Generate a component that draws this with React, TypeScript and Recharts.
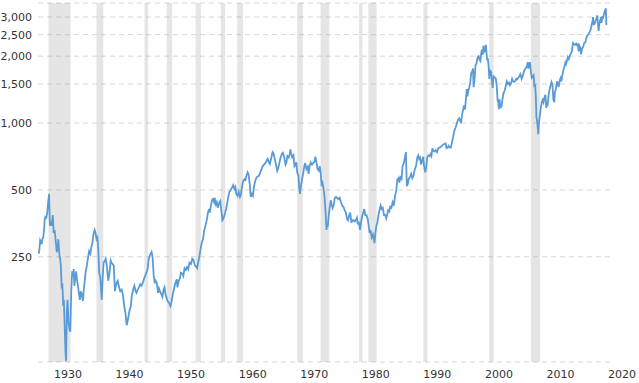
import React from 'react';
import { LineChart, Line, XAxis, YAxis, CartesianGrid, ReferenceArea } from 'recharts';

const years: number[] = [
  1928.0, 1928.1, 1928.25, 1928.4, 1928.5, 1928.6, 1928.75, 1928.9, 1929.0, 1929.1, 1929.25, 1929.4, 1929.55, 1929.7, 1929.83, 1929.95,
  1930.1, 1930.3, 1930.45, 1930.6, 1930.75, 1930.95, 1931.1, 1931.2, 1931.4, 1931.5, 1931.6, 1931.75, 1931.85, 1932.0, 1932.1, 1932.2,
  1932.35, 1932.45, 1932.6, 1932.7, 1932.85, 1933.0, 1933.15, 1933.3, 1933.45, 1933.6, 1933.7, 1933.8, 1933.95, 1934.1, 1934.25, 1934.4,
  1934.55, 1934.7, 1934.85, 1935.0, 1935.2, 1935.35, 1935.5, 1935.65, 1935.8, 1936.0, 1936.2, 1936.4, 1936.55, 1936.75, 1936.9, 1937.1,
  1937.25, 1937.4, 1937.55, 1937.7, 1937.85, 1938.0, 1938.25, 1938.4, 1938.55, 1938.75, 1938.9, 1939.1, 1939.3, 1939.5, 1939.7, 1939.85,
  1940.0, 1940.2, 1940.4, 1940.55, 1940.7, 1940.85, 1941.0, 1941.25, 1941.5, 1941.7, 1941.9, 1942.1, 1942.3, 1942.45, 1942.6, 1942.8,
  1942.95, 1943.15, 1943.4, 1943.55, 1943.75, 1943.9, 1944.1, 1944.3, 1944.5, 1944.7, 1944.9, 1945.1, 1945.3, 1945.5, 1945.7, 1945.9,
  1946.1, 1946.35, 1946.5, 1946.7, 1946.85, 1947.0, 1947.2, 1947.4, 1947.55, 1947.7, 1947.9, 1948.1, 1948.3, 1948.45, 1948.6, 1948.8,
  1948.95, 1949.2, 1949.4, 1949.55, 1949.8, 1950.0, 1950.2, 1950.45, 1950.55, 1950.75, 1950.95, 1951.1, 1951.35, 1951.5, 1951.7, 1951.9,
  1952.1, 1952.3, 1952.5, 1952.75, 1952.95, 1953.15, 1953.4, 1953.6, 1953.75, 1953.9, 1954.1, 1954.3, 1954.5, 1954.7, 1954.9, 1955.1,
  1955.3, 1955.5, 1955.7, 1955.8, 1955.95, 1956.15, 1956.3, 1956.5, 1956.6, 1956.8, 1956.95, 1957.1, 1957.3, 1957.5, 1957.7, 1957.85,
  1958.0, 1958.2, 1958.45, 1958.6, 1958.8, 1959.0, 1959.2, 1959.45, 1959.6, 1959.8, 1959.95, 1960.1, 1960.3, 1960.5, 1960.7, 1960.85,
  1961.0, 1961.2, 1961.45, 1961.6, 1961.8, 1961.95, 1962.1, 1962.3, 1962.45, 1962.6, 1962.8, 1962.95, 1963.15, 1963.4, 1963.6, 1963.8,
  1963.95, 1964.2, 1964.4, 1964.6, 1964.8, 1965.0, 1965.2, 1965.4, 1965.55, 1965.8, 1966.0, 1966.15, 1966.4, 1966.6, 1966.75, 1966.9,
  1967.1, 1967.3, 1967.5, 1967.7, 1967.9, 1968.1, 1968.25, 1968.4, 1968.6, 1968.75, 1968.9, 1969.0, 1969.2, 1969.4, 1969.55, 1969.7,
  1969.85, 1970.0, 1970.2, 1970.35, 1970.45, 1970.6, 1970.8, 1970.95, 1971.15, 1971.3, 1971.5, 1971.7, 1971.85, 1972.0, 1972.2, 1972.4,
  1972.6, 1972.8, 1972.95, 1973.1, 1973.3, 1973.5, 1973.65, 1973.8, 1973.95, 1974.1, 1974.3, 1974.45, 1974.6, 1974.75, 1974.85, 1974.95,
  1975.1, 1975.3, 1975.45, 1975.6, 1975.75, 1975.95, 1976.1, 1976.3, 1976.5, 1976.7, 1976.9, 1977.1, 1977.3, 1977.5, 1977.7, 1977.9,
  1978.1, 1978.25, 1978.45, 1978.6, 1978.8, 1978.95, 1979.15, 1979.35, 1979.5, 1979.7, 1979.85, 1980.0, 1980.2, 1980.35, 1980.5, 1980.7,
  1980.9, 1981.05, 1981.25, 1981.45, 1981.6, 1981.75, 1981.9, 1982.1, 1982.3, 1982.45, 1982.55, 1982.7, 1982.85, 1983.0, 1983.2, 1983.4,
  1983.55, 1983.7, 1983.9, 1984.1, 1984.3, 1984.45, 1984.6, 1984.75, 1984.95, 1985.1, 1985.3, 1985.5, 1985.7, 1985.9, 1986.1, 1986.25,
  1986.45, 1986.6, 1986.75, 1986.95, 1987.1, 1987.3, 1987.5, 1987.65, 1987.8, 1987.95, 1988.1, 1988.3, 1988.5, 1988.7, 1988.9, 1989.1,
  1989.3, 1989.5, 1989.65, 1989.8, 1989.95, 1990.1, 1990.3, 1990.45, 1990.6, 1990.8, 1990.95, 1991.1, 1991.3, 1991.5, 1991.65, 1991.8,
  1991.95, 1992.1, 1992.3, 1992.5, 1992.7, 1992.9, 1993.1, 1993.3, 1993.5, 1993.7, 1993.9, 1994.1, 1994.25, 1994.45, 1994.6, 1994.8,
  1994.95, 1995.1, 1995.3, 1995.5, 1995.7, 1995.9, 1996.1, 1996.3, 1996.5, 1996.6, 1996.8, 1996.95, 1997.1, 1997.25, 1997.4, 1997.55,
  1997.65, 1997.8, 1997.95, 1998.1, 1998.25, 1998.4, 1998.55, 1998.65, 1998.8, 1998.95, 1999.1, 1999.3, 1999.45, 1999.6, 1999.75, 1999.9,
  2000.0, 2000.15, 2000.25, 2000.4, 2000.55, 2000.65, 2000.75, 2000.85, 2000.95, 2001.1, 2001.2, 2001.35, 2001.5, 2001.65, 2001.75, 2001.85,
  2001.95, 2002.1, 2002.25, 2002.4, 2002.55, 2002.65, 2002.75, 2002.85, 2002.95, 2003.1, 2003.2, 2003.35, 2003.5, 2003.7, 2003.9, 2004.05,
  2004.2, 2004.4, 2004.55, 2004.7, 2004.9, 2005.05, 2005.2, 2005.35, 2005.55, 2005.7, 2005.9, 2006.05, 2006.25, 2006.45, 2006.6, 2006.8,
  2006.95, 2007.1, 2007.3, 2007.45, 2007.55, 2007.7, 2007.8, 2007.95, 2008.1, 2008.25, 2008.4, 2008.5, 2008.65, 2008.75, 2008.85, 2008.95,
  2009.05, 2009.15, 2009.25, 2009.4, 2009.55, 2009.7, 2009.85, 2010.0, 2010.15, 2010.3, 2010.45, 2010.55, 2010.65, 2010.8, 2010.95, 2011.15,
  2011.3, 2011.45, 2011.6, 2011.75, 2011.85, 2012.0, 2012.2, 2012.35, 2012.45, 2012.6, 2012.75, 2012.9, 2013.05, 2013.25, 2013.4, 2013.55,
  2013.65, 2013.8, 2013.95, 2014.1, 2014.25, 2014.45, 2014.6, 2014.8, 2014.95, 2015.1, 2015.3, 2015.45, 2015.6, 2015.7, 2015.85, 2016.0,
  2016.1, 2016.25, 2016.45, 2016.6, 2016.8, 2016.95, 2017.1, 2017.3, 2017.5, 2017.65, 2017.8, 2017.95, 2018.05, 2018.15, 2018.3, 2018.45,
  2018.6, 2018.72, 2018.85, 2018.95, 2019.05, 2019.2, 2019.35, 2019.42, 2019.55, 2019.65, 2019.75, 2019.9, 2020.05, 2020.13, 2020.2,
];

const realPrice: number[] = [
  258, 265, 296, 290, 285, 300, 305, 335, 370, 378, 375, 395, 440, 480, 345, 360,
  345, 385, 320, 330, 300, 262, 275, 300, 250, 245, 230, 180, 190, 150, 160, 130,
  95, 85, 145, 160, 128, 118, 115, 175, 215, 205, 220, 185, 200, 215, 195, 185,
  170, 160, 175, 170, 158, 180, 195, 215, 225, 245, 265, 258, 275, 290, 315, 330,
  320, 300, 305, 265, 210, 205, 160, 200, 235, 240, 245, 225, 195, 210, 240, 235,
  232, 228, 175, 185, 192, 195, 185, 175, 178, 168, 150, 140, 123, 128, 135, 145,
  148, 168, 180, 185, 175, 172, 178, 182, 188, 185, 190, 198, 205, 212, 220, 245,
  255, 263, 250, 205, 190, 195, 190, 172, 180, 175, 170, 165, 178, 182, 170, 162,
  158, 155, 150, 155, 170, 180, 190, 198, 182, 195, 200, 212, 210, 205, 222, 218,
  225, 220, 235, 232, 245, 242, 228, 225, 222, 235, 250, 270, 290, 300, 330, 345,
  365, 395, 410, 395, 420, 450, 455, 440, 460, 430, 440, 415, 435, 445, 400, 365,
  370, 385, 410, 430, 465, 490, 500, 515, 525, 505, 515, 480, 470, 490, 465, 475,
  510, 545, 560, 555, 585, 600, 585, 530, 465, 480, 470, 510, 545, 570, 575, 580,
  595, 620, 640, 650, 660, 675, 690, 665, 655, 700, 740, 730, 680, 640, 610, 625,
  660, 700, 725, 735, 700, 650, 665, 710, 700, 720, 760, 735, 700, 715, 640, 650,
  665, 600, 580, 500, 480, 520, 560, 590, 640, 660, 620, 635, 590, 640, 665, 650,
  660, 670, 705, 670, 620, 610, 640, 600, 530, 540, 500, 460, 400, 330, 345, 340,
  380, 420, 450, 430, 415, 430, 460, 465, 460, 455, 460, 440, 425, 420, 405, 395,
  370, 365, 385, 395, 355, 365, 365, 360, 365, 375, 350, 360, 330, 355, 375, 395,
  410, 385, 385, 370, 345, 320, 330, 305, 315, 300, 288, 320, 345, 355, 385, 410,
  425, 410, 415, 385, 385, 372, 385, 405, 400, 420, 415, 440, 425, 470, 500, 555,
  565, 540, 570, 560, 640, 660, 700, 740, 520, 530, 560, 570, 590, 565, 580, 620,
  640, 700, 715, 690, 700, 650, 680, 705, 640, 600, 630, 700, 715, 710, 725, 710,
  770, 750, 745, 755, 740, 770, 775, 780, 790, 800, 805, 810, 770, 775, 790, 775,
  775, 810, 860, 920, 950, 990, 1030, 1050, 1020, 1000, 1100, 1150, 1200, 1150, 1290, 1420,
  1320, 1400, 1450, 1520, 1680, 1700, 1760, 1450, 1580, 1820, 1850, 1980, 2000, 1930, 1900, 2080,
  2140, 2030, 2230, 2080, 2160, 2250, 2060, 1920, 1960, 1780, 1580, 1720, 1700, 1540, 1440, 1580,
  1620, 1600, 1590, 1470, 1260, 1240, 1150, 1280, 1210, 1180, 1190, 1290, 1360, 1400, 1480, 1540,
  1500, 1520, 1480, 1500, 1580, 1540, 1530, 1540, 1580, 1570, 1600, 1620, 1660, 1580, 1620, 1700,
  1740, 1760, 1800, 1880, 1760, 1820, 1880, 1700, 1600, 1620, 1640, 1470, 1480, 1320, 1060, 1030,
  960, 890, 1000, 1080, 1160, 1230, 1270, 1240, 1300, 1340, 1170, 1240, 1190, 1320, 1400, 1480,
  1530, 1490, 1280, 1240, 1380, 1420, 1540, 1500, 1450, 1540, 1590, 1540, 1640, 1740, 1800, 1870,
  1840, 1900, 1980, 1940, 2000, 2060, 2100, 2290, 2260, 2250, 2280, 2240, 2260, 2100, 2220, 2180,
  2040, 2160, 2200, 2290, 2310, 2410, 2470, 2510, 2570, 2630, 2760, 2860, 3000, 2780, 2800, 2880,
  2950, 3050, 2800, 2600, 2780, 2900, 2990, 2820, 3030, 2950, 3020, 3150, 3240, 3280, 2760,
];

const recessionStarts: number[] = [1929.6, 1937.4, 1945.2, 1948.8, 1953.5, 1957.6, 1960.25, 1970.0, 1973.8, 1980.05, 1981.55, 1990.5, 2001.2, 2007.95];
const recessionEnds: number[] = [1933.2, 1938.5, 1945.8, 1949.7, 1954.35, 1958.3, 1961.2, 1970.9, 1975.2, 1980.6, 1982.9, 1991.15, 2001.9, 2009.45];

const xTicks: number[] = [1930, 1940, 1950, 1960, 1970, 1980, 1990, 2000, 2010, 2020];
const yTicks: number[] = [250, 500, 1000, 1500, 2000, 2500, 3000];

const data = years.map((y, i) => ({ year: y, value: realPrice[i] }));

const FONT = '"DejaVu Sans", Verdana, sans-serif';

const XTick = (props: any) => {
  const { x, y, payload } = props;
  return (
    <text x={x + 3} y={y + 8} textAnchor="start" fontFamily={FONT} fontSize={11} fill="#333">
      {payload.value}
    </text>
  );
};

const YTick = (props: any) => {
  const { y, payload } = props;
  return (
    <text x={32} y={y + 4} textAnchor="end" fontFamily={FONT} fontSize={11} fill="#333">
      {Number(payload.value).toLocaleString('en-US')}
    </text>
  );
};

export default function App() {
  return (
    <div style={{ position: 'absolute', left: 0, top: 0, width: 639, height: 383, background: '#fff' }}>
      <LineChart width={639} height={383} data={data} margin={{ top: 3, right: 29, bottom: 0, left: 0 }}>
        <CartesianGrid vertical={false} stroke="#d6d6d6" strokeDasharray="5 4" />
        {recessionStarts.map((s, i) => (
          <ReferenceArea
            key={i}
            x1={s}
            x2={recessionEnds[i]}
            fill="#999999"
            fillOpacity={0.25}
            stroke="none"
            ifOverflow="hidden"
          />
        ))}
        <XAxis
          dataKey="year"
          type="number"
          domain={[1927.9, 2020.8]}
          ticks={xTicks}
          allowDataOverflow
          axisLine={false}
          tickLine={false}
          height={21}
          tick={<XTick />}
          interval={0}
        />
        <YAxis
          type="number"
          scale="log"
          domain={[84, 3470]}
          ticks={yTicks}
          allowDataOverflow
          axisLine={false}
          tickLine={false}
          width={38}
          tick={<YTick />}
          interval={0}
        />
        <Line
          type="linear"
          dataKey="value"
          stroke="#5b9bd5"
          strokeWidth={1.8}
          dot={false}
          isAnimationActive={false}
        />
      </LineChart>
    </div>
  );
}
